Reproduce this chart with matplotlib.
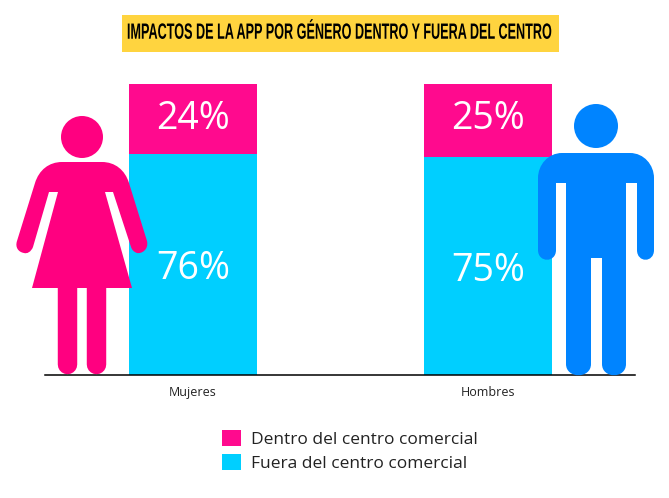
import matplotlib
matplotlib.use("Agg")
import matplotlib.pyplot as plt
from matplotlib.path import Path
from matplotlib.patches import PathPatch, Circle, Rectangle
from matplotlib.patheffects import AbstractPathEffect
from matplotlib.transforms import Affine2D

plt.rcParams["font.family"] = ["Open Sans", "DejaVu Sans"]

categories = ["Mujeres", "Hombres"]
dentro = [24, 25]
fuera = [76, 75]
legend_labels = ["Dentro del centro comercial", "Fuera del centro comercial"]
title = "IMPACTOS DE LA APP POR GÉNERO DENTRO Y FUERA DEL CENTRO"

PINK = "#FF0A8E"
CYAN = "#00CFFF"
WOMAN = "#FF0080"
MAN = "#0084FF"

W, H = 669, 498
fig = plt.figure(figsize=(W / 100, H / 100), dpi=100)
ax = fig.add_axes([45 / W, (H - 375) / H, 590 / W, 291 / H])

x = range(len(categories))
b1 = ax.bar(x, fuera, width=0.434, color=CYAN, label=legend_labels[1])
b2 = ax.bar(x, dentro, width=0.434, bottom=fuera, color=PINK, label=legend_labels[0])
ax.set_xlim(-0.502, 1.498)
ax.set_ylim(0, 100)
ax.set_xticks(list(x), categories, fontsize=9, color="#222222")
ax.set_yticks([])
ax.tick_params(axis="x", length=0, pad=8)
for s in ["top", "left", "right"]:
    ax.spines[s].set_visible(False)
ax.spines["bottom"].set_linewidth(1.1)
ax.spines["bottom"].set_color("black")

for i in x:
    ax.text(i, fuera[i] / 2 - 1.7, f"{fuera[i]}%", color="white", fontsize=27, ha="center", va="center", zorder=5)
    ax.text(i, 88, f"{dentro[i]}%", color="white", fontsize=27, ha="center", va="center", zorder=5)

fig.legend(handles=[b2, b1], labels=legend_labels, loc="upper left", bbox_to_anchor=(217 / W, 1 - 425 / H),
           frameon=False, fontsize=12.5, handlelength=1.08, handleheight=1.04, handletextpad=0.55,
           labelspacing=0.32, borderpad=0.3, borderaxespad=0, labelcolor="#222222")

# overlay in pixel coordinates for banner and the two icons
ov = fig.add_axes([0, 0, 1, 1], zorder=3)
ov.set_xlim(0, W)
ov.set_ylim(H, 0)
ov.axis("off")
ov.patch.set_alpha(0)

ov.add_patch(Rectangle((122, 15), 437, 37, color="#FFD43F", lw=0))


class Tall(AbstractPathEffect):
    # no condensed font installed, so stretch the title glyphs upward instead
    def __init__(self, cy, sy):
        super().__init__()
        self.stretch = Affine2D().translate(0, -cy).scale(1, sy).translate(0, cy)

    def draw_path(self, renderer, gc, tpath, affine, rgbFace=None):
        renderer.draw_path(gc, tpath, affine + self.stretch, rgbFace)


ov.text(339, 33.5, title, family="Liberation Sans", fontweight="bold", fontsize=9.1,
        ha="center", va="center", color="black", path_effects=[Tall(H - 33.5, 1.75)])


def shape(ops):
    verts, codes = [], []
    for code, pts in ops:
        verts += pts
        codes += [code] * len(pts)
    return Path(verts, codes)


M, L, C4 = Path.MOVETO, Path.LINETO, Path.CURVE4

# woman
ov.add_patch(Circle((82, 137), 21, color=WOMAN, lw=0))
woman = shape([
    (M, [(62, 162)]),
    (L, [(102, 162)]),
    (C4, [(115, 162), (125, 170), (129, 183)]),
    (L, [(147, 241)]),
    (C4, [(149, 250), (141, 254), (137, 253)]),
    (C4, [(134, 252), (132, 250), (131, 247)]),
    (L, [(113, 192), (105, 192), (132, 288), (32, 288), (58, 192), (49, 192), (33, 247)]),
    (C4, [(31, 252), (27, 254), (24, 253)]),
    (C4, [(18, 252), (15, 247), (17, 241)]),
    (L, [(35, 183)]),
    (C4, [(39, 170), (49, 162), (62, 162)]),
    (Path.CLOSEPOLY, [(62, 162)]),
])
ov.add_patch(PathPatch(woman, color=WOMAN, lw=0))
for lx in [67.3, 96.3]:
    ov.plot([lx, lx], [285, 364], color=WOMAN, lw=14, solid_capstyle="round")

# man
ov.add_patch(Circle((596, 126), 22, color=MAN, lw=0))
man = shape([
    (M, [(562, 153)]),
    (L, [(630, 153)]),
    (C4, [(644, 153), (654, 165), (654, 178)]),
    (L, [(654, 250)]),
    (C4, [(654, 263), (637, 263), (637, 250)]),
    (L, [(637, 183), (626, 183), (626, 364)]),
    (C4, [(626, 379), (602, 379), (602, 364)]),
    (L, [(602, 258), (591, 258), (591, 364)]),
    (C4, [(591, 379), (566, 379), (566, 364)]),
    (L, [(566, 183), (556, 183), (556, 250)]),
    (C4, [(556, 263), (538, 263), (538, 250)]),
    (L, [(538, 178)]),
    (C4, [(538, 165), (548, 153), (562, 153)]),
    (Path.CLOSEPOLY, [(562, 153)]),
])
ov.add_patch(PathPatch(man, color=MAN, lw=0))

fig.savefig("out.png", dpi=100)
